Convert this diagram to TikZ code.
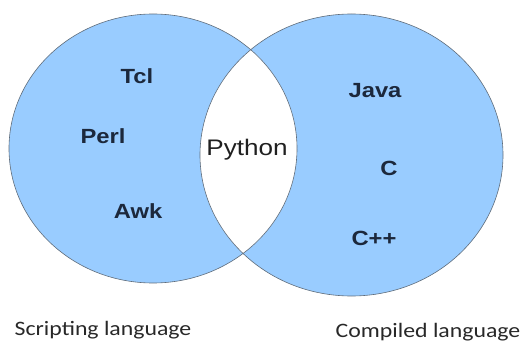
\documentclass[tikz,border=0pt]{standalone}
\usepackage{fontspec}
\setmainfont{Liberation Sans}
\newfontfamily\captionfont{Carlito}
\usepackage{tikz}
\usetikzlibrary{positioning}

\definecolor{setblue}{RGB}{153,204,255}
\definecolor{setedge}{RGB}{95,108,122}
\definecolor{langtext}{RGB}{28,40,60}
\definecolor{captext}{RGB}{40,40,40}

\tikzset{
  lang/.style={font=\bfseries\fontsize{20.5}{24}\selectfont, text=langtext, xscale=1.16, transform shape, inner sep=0pt},
  both/.style={font=\fontsize{22.5}{26}\selectfont, text=captext!80!black, xscale=1.16, transform shape, inner sep=0pt},
  setname/.style={font=\captionfont\fontsize{20.5}{24}\selectfont, text=captext, xscale=1.16, transform shape, inner sep=0pt}
}

\begin{document}
\begin{tikzpicture}[x=1pt,y=-1pt]
            \useasboundingbox (0,0) rectangle (521,347);
            \fill[setblue] (153,148.5) ellipse [x radius=144, y radius=134.5]; %Scripting
            \fill[setblue] (351.5,155) ellipse [x radius=151.5, y radius=141]; %Compiled
            \begin{scope}
                \clip (153,148.5) ellipse [x radius=144, y radius=134.5];
                \fill[white] (351.5,155) ellipse [x radius=151.5, y radius=141]; %共通部分
            \end{scope}
            \draw[setedge,semithick] (153,148.5) ellipse [x radius=144, y radius=134.5];
            \draw[setedge,semithick] (351.5,155) ellipse [x radius=151.5, y radius=141];
            \node[lang] (tcl) at (137,76) {Tcl};
            \node[lang] (perl) at (103,136) {Perl};
            \node[lang] (awk) at (138,211) {Awk};
            \node[both] (python) at (247,150) {Python};
            \node[lang] (java) at (375,91) {Java};
            \node[lang] (c) at (389,168) {C};
            \node[lang] (cpp) at (374,238) {C++};
            \node[setname] (scripting) at (103,330) {Scripting language};
            \node[setname] (compiled) at (428,332) {Compiled language};
        \end{tikzpicture}
\end{document}
